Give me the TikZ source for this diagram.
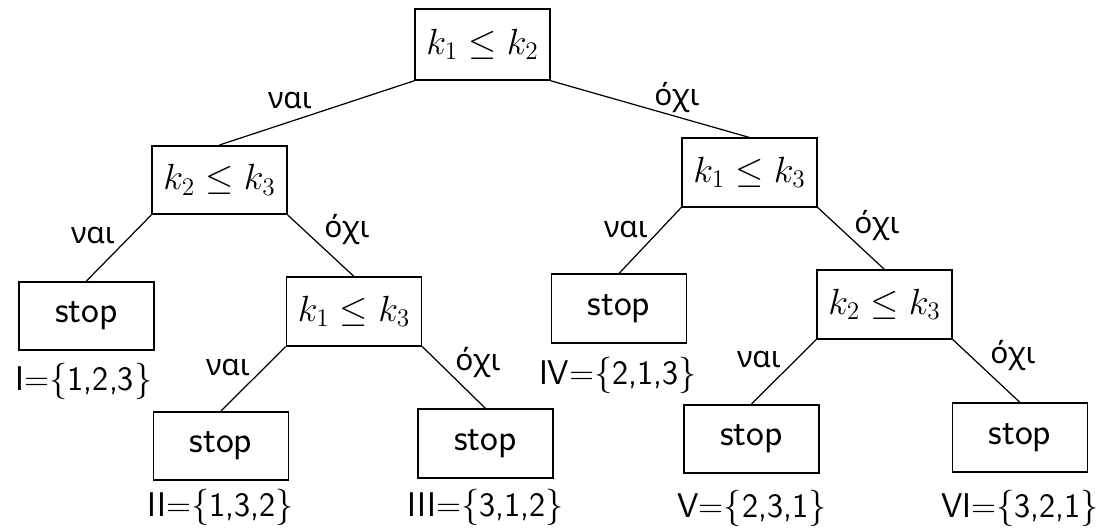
\documentclass[tikz,border=0pt]{standalone}
\usepackage{fontspec}
\newfontfamily\greekfont{Noto Sans}
\begin{document}
\begin{tikzpicture}[x=0.02cm,y=-0.02cm,
  box/.style={draw, line width=0.9pt, minimum width=2.7cm, minimum height=1.37cm, inner sep=0pt, font=\fontsize{20}{24}\selectfont},
  stopbox/.style={box, font=\sffamily\fontsize{21.5}{25}\selectfont},
  edge/.style={line width=0.7pt},
  gl/.style={anchor=base, inner sep=0pt, font=\greekfont\fontsize{17}{20}\selectfont},
  res/.style={anchor=base, inner sep=0pt, font=\sffamily\fontsize{19.5}{23}\selectfont}]
\useasboundingbox (0,0) rectangle (1105,529);
% decision nodes
\node[box, minimum height=1.42cm] (r)  at (482.5,44.5) {$k_1 \le k_2$};
\node[box] (l1) at (219.5,180)  {$k_2 \le k_3$};
\node[box] (r1) at (749.5,172.5) {$k_1 \le k_3$};
\node[box] (l2) at (354,311.5) {$k_1 \le k_3$};
\node[box] (r2) at (884.5,304.5) {$k_2 \le k_3$};
% leaves
\node[stopbox] (s1) at (86.5,316) {stop};
\node[stopbox] (s2) at (221,446) {stop};
\node[stopbox] (s3) at (485.5,443.5) {stop};
\node[stopbox] (s4) at (619,308.5) {stop};
\node[stopbox] (s5) at (751.5,439) {stop};
\node[stopbox] (s6) at (1020,437.5) {stop};
% edges
\draw[edge] (r.south west) -- (l1.north);
\draw[edge] (r.south east) -- (r1.north);
\draw[edge] (l1.south west) -- (s1.north);
\draw[edge] (l1.south east) -- (l2.north);
\draw[edge] (l2.south west) -- (s2.north);
\draw[edge] (l2.south east) -- (s3.north);
\draw[edge] (r1.south west) -- (s4.north);
\draw[edge] (r1.south east) -- (r2.north);
\draw[edge] (r2.south west) -- (s5.north);
\draw[edge] (r2.south east) -- (s6.north);
% edge labels
\node[gl] (g1) at (290,108) {ναι};
\node[gl] (g2) at (677,105) {όχι};
\node[gl] (g3) at (93,243) {ναι};
\node[gl] (g4) at (347,237) {όχι};
\node[gl] (g5) at (228,375) {ναι};
\node[gl] (g6) at (478,370) {όχι};
\node[gl] (g7) at (626,237) {ναι};
\node[gl] (g8) at (877,233) {όχι};
\node[gl] (g9) at (759,367) {ναι};
\node[gl] (g10) at (1013,363) {όχι};
% result labels
\node[res] (t1) at (84,390) {I=$\{$1,2,3$\}$};
\node[res] (t2) at (221,516) {II=$\{$1,3,2$\}$};
\node[res] (t3) at (486,516) {III=$\{$3,1,2$\}$};
\node[res] (t4) at (618,384) {IV=$\{$2,1,3$\}$};
\node[res] (t5) at (752,517) {V=$\{$2,3,1$\}$};
\node[res] (t6) at (1020,517) {VI=$\{$3,2,1$\}$};
\end{tikzpicture}
\end{document}
